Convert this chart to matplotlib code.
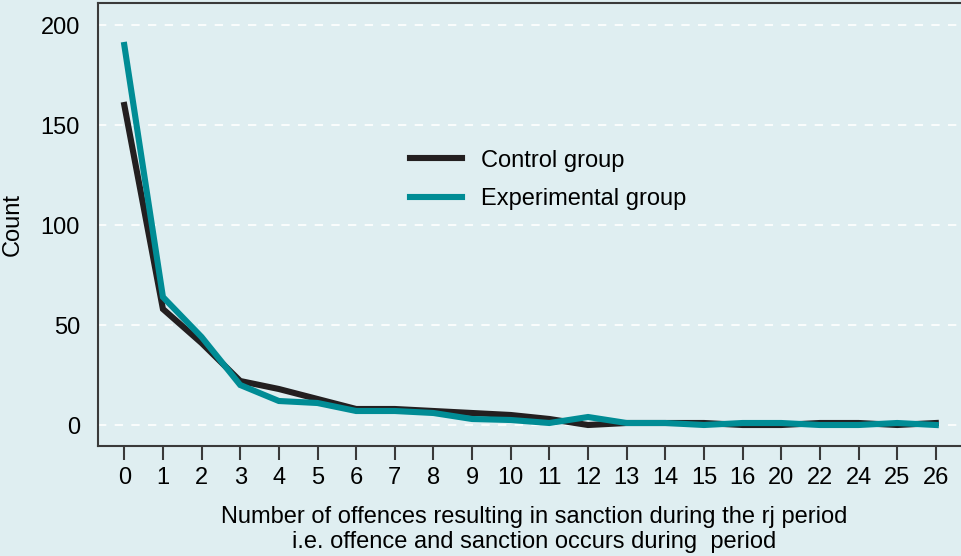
import numpy as np
import matplotlib.pyplot as plt

plt.rcParams['font.family'] = ['Liberation Sans', 'DejaVu Sans']

# offence counts (categories on x axis)
categories = ['0', '1', '2', '3', '4', '5', '6', '7', '8', '9', '10', '11', '12',
              '13', '14', '15', '16', '20', '22', '24', '25', '26']
control = [160, 58, 41, 22, 18, 13, 8, 8, 7, 6, 5, 3, 0,
           1, 1, 1, 0, 0, 1, 1, 0, 1]
experimental = [190, 64, 44, 20, 12, 11, 7, 7, 6, 3, 2.5, 1, 4,
                1, 1, 0, 1, 1, 0, 0, 1, 0]
yticks = [0, 50, 100, 150, 200]

bg = '#dfeef1'
dark = '#231f20'
teal = '#008c95'
fs = 17

fig = plt.figure(figsize=(9.61, 5.56), dpi=100, facecolor=bg)
ax = fig.add_axes([98 / 961, 1 - 446 / 556, 1 - 98 / 961 + 0.01, 443 / 556])
ax.set_facecolor(bg)

x = np.arange(len(categories))
ax.plot(x, control, color=dark, lw=4.4, label='Control group', solid_joinstyle='miter')
ax.plot(x, experimental, color=teal, lw=4.4, label='Experimental group', solid_joinstyle='miter')

ax.set_xlim(-0.68, 21.9)
ax.set_ylim(-10.5, 211)
ax.set_xticks(x)
ax.set_xticklabels(categories)
ax.set_yticks(yticks)

ax.grid(axis='y', color='white', ls=(0, (5, 5)), lw=1.2)
ax.set_axisbelow(True)

for s in ['left', 'bottom', 'top']:
    ax.spines[s].set_color('#3a3a3a')
    ax.spines[s].set_linewidth(1.5)
ax.spines['right'].set_visible(False)

ax.tick_params(axis='x', length=10, width=1.5, color='#3a3a3a', labelsize=fs, pad=5)
ax.tick_params(axis='y', length=0, labelsize=fs, pad=13)

# y label placed directly so it sits at the far left like the original
fig.text(13 / 961, 1 - 225 / 556, 'Count', rotation=90, ha='center', va='center', fontsize=fs)
ax.set_xlabel('Number of offences resulting in sanction during the rj period\n'
              'i.e. offence and sanction occurs during  period',
              fontsize=fs, labelpad=12, linespacing=1.2)

leg = ax.legend(loc='upper left', bbox_to_anchor=(0.3575, 0.669), frameon=False,
                fontsize=fs, handlelength=2.2, handletextpad=0.8, labelspacing=0.7,
                borderaxespad=0, borderpad=0)

fig.savefig('out.png', dpi=100, facecolor=bg)
